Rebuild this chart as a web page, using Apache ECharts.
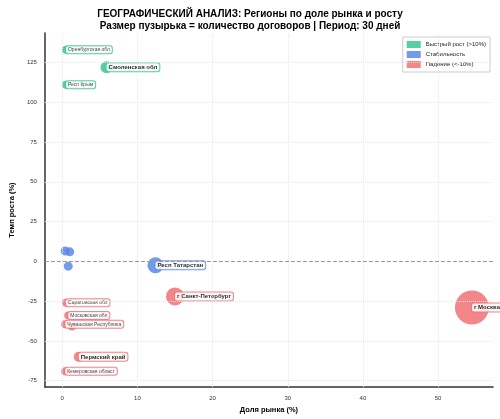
<!DOCTYPE html><html><head><meta charset="utf-8"><script src="https://cdn.jsdelivr.net/npm/echarts@6/dist/echarts.min.js"></script></head><body style="margin:0"><div id="c" style="width:500px;height:419px"></div><script>
const growthNames=['Оренбургская обл','Смоленская обл','Респ Крым'];
const growthX=[0.5,5.9,0.5];const growthY=[133,122,111];const growthSize=[8,12,8];
const stableNames=['','','','Респ Татарстан'];
const stableX=[0.4,1.0,0.8,12.4];const stableY=[6.5,6,-3,-2.5];const stableSize=[9,9,9,16];
const fallNames=['г Москва','г Санкт-Петербург','Саратовская обл','Московская обл','Чувашская Республика','','Пермский край','Кемеровская област'];
const fallX=[54.5,15.0,0.5,0.8,0.4,1.3,2.2,0.4];const fallY=[-29,-22,-26,-34,-39.5,-41,-60,-69];const fallSize=[34,18,8,8,8,8,10,8];
const bold={'Смоленская обл':1,'Респ Татарстан':1,'г Санкт-Петербург':1,'г Москва':1,'Пермский край':1};
function mk(name,color,names,xs,ys,sz){return{name,type:'scatter',data:xs.map((x,i)=>({value:[x,ys[i]],name:names[i],symbolSize:sz[i]})),
itemStyle:{color,opacity:0.85},
label:{show:true,position:['50%','50%'],align:'left',verticalAlign:'middle',formatter:p=>p.name,backgroundColor:'#fff',borderColor:color,borderWidth:1,borderRadius:2,padding:[1,2],
fontSize:5,color:'#222'}}}
const series=[mk('Быстрый рост (>10%)','#3cc592',growthNames,growthX,growthY,growthSize),
mk('Стабильность','#5b88e8',stableNames,stableX,stableY,stableSize),
mk('Падение (<-10%)','#f17174',fallNames,fallX,fallY,fallSize)];
series.forEach(s=>s.data.forEach(d=>{if(bold[d.name])d.label={fontWeight:'bold',fontSize:6,color:'#000'};if(!d.name)d.label={show:false};}));
const ch=echarts.init(document.getElementById('c'));
ch.setOption({animation:false,
title:{text:'ГЕОГРАФИЧЕСКИЙ АНАЛИЗ: Регионы по доле рынка и росту\nРазмер пузырька = количество договоров | Период: 30 дней',left:'center',top:3,textStyle:{fontSize:10,fontWeight:'bold',lineHeight:12,color:'#000'}},
legend:{right:10,top:37,orient:'vertical',itemWidth:14,itemHeight:7,itemGap:3,textStyle:{fontSize:6,color:'#222'},borderColor:'#ccc',borderWidth:1,padding:4,icon:'rect'},
grid:{left:28,right:7,top:33,bottom:24,containLabel:false},
xAxis:{type:'value',min:-2.3,max:57.3,name:'Доля рынка (%)',nameLocation:'middle',nameGap:16,nameTextStyle:{fontWeight:'bold',fontSize:7.5,color:'#000'},
axisLine:{onZero:false,lineStyle:{color:'#333',width:1.5}},axisTick:{show:false},
axisLabel:{fontSize:6,color:'#333',customValues:[0,10,20,30,40,50]},
splitLine:{show:false}},
yAxis:{type:'value',min:-79,max:143.5,name:'Темп роста (%)',nameLocation:'middle',nameGap:19,nameTextStyle:{fontWeight:'bold',fontSize:7.5,color:'#000'},
axisLine:{onZero:false,lineStyle:{color:'#333',width:1.5}},axisTick:{show:false},
axisLabel:{fontSize:6,color:'#333',customValues:[-75,-50,-25,0,25,50,75,100,125]},
splitLine:{show:false}},
series:[
{type:'scatter',silent:true,data:[],markLine:{silent:true,symbol:'none',label:{show:false},lineStyle:{color:'#e6e6e6',type:'dotted',width:1},
data:[0,10,20,30,40,50].map(v=>({xAxis:v})).concat([-75,-50,-25,25,50,75,100,125].map(v=>({yAxis:v})))}},
{type:'scatter',silent:true,data:[],markLine:{silent:true,symbol:'none',label:{show:false},lineStyle:{color:'#999',type:'dashed',width:1},data:[{yAxis:0}]}},
...series]
});
</script></body></html>
